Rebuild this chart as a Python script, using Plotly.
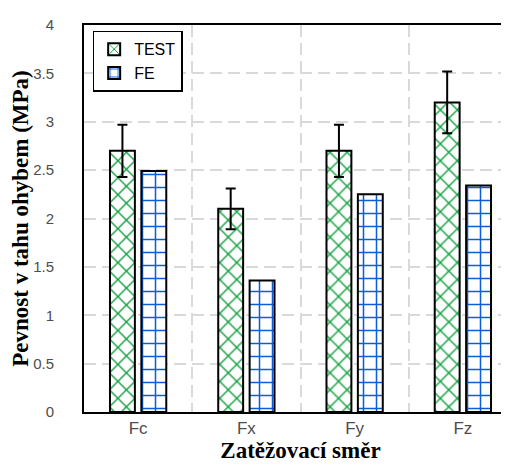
import plotly.graph_objects as go

categories = ["Fc", "Fx", "Fy", "Fz"]
test_values = [2.70, 2.10, 2.70, 3.20]
test_errors = [0.27, 0.21, 0.27, 0.32]
fe_values = [2.49, 1.36, 2.25, 2.34]
y_ticks = [0, 0.5, 1, 1.5, 2, 2.5, 3, 3.5, 4]
y_ticktext = ["0", "0.5", "1", "1.5", "2", "2.5", "3", "3.5", "4"]

xpos = list(range(len(categories)))

fig = go.Figure()
fig.add_trace(go.Bar(
    x=xpos, y=test_values, name="TEST",
    width=0.23, offset=-0.26,
    marker=dict(color="white", line=dict(color="black", width=2),
                pattern=dict(shape="x", fgcolor="#12a040", bgcolor="white",
                             fgopacity=1, size=12, solidity=0.22)),
    error_y=dict(type="data", array=test_errors, visible=True,
                 color="black", thickness=2, width=5),
))
fig.add_trace(go.Bar(
    x=xpos, y=fe_values, name="FE",
    width=0.23, offset=0.03,
    marker=dict(color="white", line=dict(color="black", width=2),
                pattern=dict(shape="+", fgcolor="#0a5fd8", bgcolor="white",
                             fgopacity=1, size=13, solidity=0.22)),
))

fig.update_layout(
    width=509, height=465,
    margin=dict(l=76, r=0, t=17, b=61),
    barmode="overlay",
    plot_bgcolor="white", paper_bgcolor="white",
    font=dict(family="Liberation Sans, Arial", size=15, color="#4d4d4d"),
    showlegend=True,
    legend=dict(x=0.02, y=0.985, xanchor="left", yanchor="top",
                bordercolor="black", borderwidth=1.5, bgcolor="white",
                font=dict(family="Liberation Sans, Arial", size=16, color="black"),
                tracegroupgap=0, itemwidth=30, entrywidth=110,
                entrywidthmode="pixels"),
)
fig.update_xaxes(
    range=[-0.5, 3.5],
    tickvals=xpos, ticktext=categories,
    tickfont=dict(size=17),
    showgrid=False, zeroline=False,
    showline=True, linecolor="black", linewidth=2, mirror=True,
    ticks="", ticklabelstandoff=0,
    minor=dict(tickvals=[0.5, 1.5, 2.5], showgrid=True, gridcolor="#d9d9d9",
               griddash="12px,6px", gridwidth=1.5),
    title=dict(text="<b>Zatěžovací směr</b>",
               font=dict(family="Liberation Serif, Times New Roman", size=23, color="black"),
               standoff=4),
)
fig.update_yaxes(
    range=[0, 4],
    tickvals=y_ticks, ticktext=y_ticktext,
    tickfont=dict(size=15),
    showgrid=True, gridcolor="#d9d9d9", griddash="12px,6px", gridwidth=1.5,
    zeroline=False,
    showline=True, linecolor="black", linewidth=2, mirror=False,
    ticks="", ticklabelstandoff=25,
    title=dict(text="<b>Pevnost v tahu ohybem (MPa)</b>",
               font=dict(family="Liberation Serif, Times New Roman", size=23, color="black"),
               standoff=0),
)

fig.write_html("out.html")
